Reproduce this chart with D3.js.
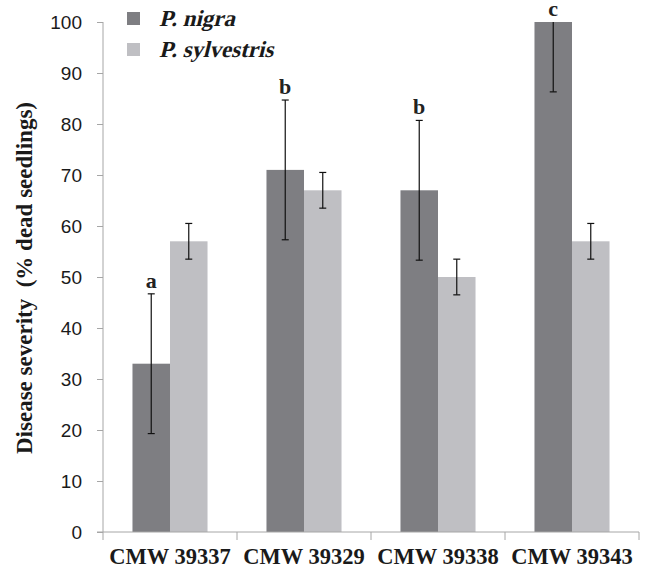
<!DOCTYPE html>
<html>
<head>
<meta charset="utf-8">
<script src="https://cdn.jsdelivr.net/npm/d3@7"></script>
<style>
  body { margin: 0; background: #fff; }
</style>
</head>
<body>
<div id="chart"></div>
<script>
// data
const isolates = ["CMW 39337", "CMW 39329", "CMW 39338", "CMW 39343"]
const species = ["P. nigra", "P. sylvestris"]
const nigraValues = [33, 71, 67, 100]
const nigraErrors = [13.7, 13.7, 13.7, 13.7]
const sylvestrisValues = [57, 67, 50, 57]
const sylvestrisErrors = [3.5, 3.5, 3.5, 3.5]
const letters = ["a", "b", "b", "c"]
const yTicks = [0, 10, 20, 30, 40, 50, 60, 70, 80, 90, 100]

const colors = { "P. nigra": "#7e7e82", "P. sylvestris": "#bfbfc3" }

// build rows for drawing
const rows = []
isolates.forEach((iso, i) => {
  rows.push({ iso, sp: species[0], v: nigraValues[i], e: nigraErrors[i], letter: letters[i] })
  rows.push({ iso, sp: species[1], v: sylvestrisValues[i], e: sylvestrisErrors[i] })
})

// dimensions
const dimensions = {
  width: 652,
  height: 568,
  margin: { top: 22, right: 13, bottom: 36, left: 103 },
}
dimensions.boundedWidth = dimensions.width - dimensions.margin.left - dimensions.margin.right
dimensions.boundedHeight = dimensions.height - dimensions.margin.top - dimensions.margin.bottom

const wrapper = d3.select("#chart")
  .append("svg")
    .attr("width", dimensions.width)
    .attr("height", dimensions.height)

const bounds = wrapper.append("g")
  .attr("transform", `translate(${dimensions.margin.left},${dimensions.margin.top})`)

// scales
const xScale = d3.scaleBand()
  .domain(isolates)
  .range([0, 536])
  .paddingInner(0.44)
  .paddingOuter(0.22)

const subScale = d3.scaleBand()
  .domain(species)
  .range([0, xScale.bandwidth()])

const yScale = d3.scaleLinear()
  .domain([0, 100])
  .range([dimensions.boundedHeight, 0])

// bars
const groups = bounds.selectAll("g.bar")
  .data(rows)
  .enter()
  .append("g")
  .attr("class", "bar")
  .attr("transform", d => `translate(${xScale(d.iso) + subScale(d.sp)},0)`)

groups.append("rect")
  .attr("x", 0)
  .attr("y", d => yScale(d.v))
  .attr("width", subScale.bandwidth())
  .attr("height", d => yScale(0) - yScale(d.v))
  .attr("fill", d => colors[d.sp])

// error bars (upper end clipped at 100)
const cx = subScale.bandwidth() / 2
groups.append("line")
  .attr("x1", cx).attr("x2", cx)
  .attr("y1", d => yScale(d.v - d.e))
  .attr("y2", d => yScale(Math.min(100, d.v + d.e)))
  .attr("stroke", "#111")
  .attr("stroke-width", 1.2)

groups.append("line")
  .attr("x1", cx - 3.5).attr("x2", cx + 3.5)
  .attr("y1", d => yScale(d.v - d.e))
  .attr("y2", d => yScale(d.v - d.e))
  .attr("stroke", "#111")
  .attr("stroke-width", 1.2)

groups.filter(d => d.v + d.e <= 100)
  .append("line")
  .attr("x1", cx - 3.5).attr("x2", cx + 3.5)
  .attr("y1", d => yScale(d.v + d.e))
  .attr("y2", d => yScale(d.v + d.e))
  .attr("stroke", "#111")
  .attr("stroke-width", 1.2)

// significance letters
groups.filter(d => d.letter)
  .append("text")
  .attr("x", cx)
  .attr("y", d => yScale(Math.min(100, d.v + d.e)) - 6)
  .attr("text-anchor", "middle")
  .style("font-family", "'Liberation Serif', 'Times New Roman', serif")
  .style("font-weight", "bold")
  .style("font-size", "22px")
  .attr("fill", "#222")
  .text(d => d.letter)

// axes
const axisColor = "#a6a6a6"

const yAxis = bounds.append("g")
  .call(d3.axisLeft(yScale).tickValues(yTicks).tickSize(6).tickPadding(15))
yAxis.select(".domain").attr("stroke", axisColor).attr("d", `M0,0V${dimensions.boundedHeight}`)
yAxis.selectAll(".tick line").attr("stroke", axisColor)
yAxis.selectAll(".tick text")
  .style("font-family", "'Liberation Sans', Arial, sans-serif")
  .style("font-size", "19px")
  .attr("fill", "#1a1a1a")

const xAxis = bounds.append("g")
  .attr("transform", `translate(0,${dimensions.boundedHeight})`)
  .call(d3.axisBottom(xScale).tickSize(0))
xAxis.select(".domain").attr("stroke", axisColor).attr("d", "M-6,0H536")
xAxis.selectAll(".tick text")
  .attr("y", 32)
  .attr("dy", 0)
  .style("font-family", "'Liberation Serif', 'Times New Roman', serif")
  .style("font-weight", "bold")
  .style("font-size", "22.5px")
  .attr("fill", "#1a1a1a")

// category separators
const sepPositions = d3.range(isolates.length + 1).map(i => i * xScale.step())
xAxis.selectAll("line.sep")
  .data(sepPositions)
  .enter()
  .append("line")
  .attr("class", "sep")
  .attr("x1", d => d).attr("x2", d => d)
  .attr("y1", 0).attr("y2", 8)
  .attr("stroke", axisColor)

// y title
wrapper.append("text")
  .attr("transform", "translate(32,278) rotate(-90)")
  .attr("text-anchor", "middle")
  .style("font-family", "'Liberation Serif', 'Times New Roman', serif")
  .style("font-weight", "bold")
  .style("font-size", "23px")
  .style("white-space", "pre")
  .attr("fill", "#1a1a1a")
  .text("Disease severity  (% dead seedlings)")

// legend
const legend = wrapper.append("g")
  .attr("transform", "translate(127,12)")

const legendItems = legend.selectAll("g")
  .data(species)
  .enter()
  .append("g")
  .attr("transform", (d, i) => `translate(0,${i * 31})`)

legendItems.append("rect")
  .attr("width", 13).attr("height", 13)
  .attr("fill", d => colors[d])

// bold serif slanted by hand (italic face falls back to sans here)
legendItems.append("text")
  .attr("transform", "translate(32,14) skewX(-14)")
  .style("font-family", "'Liberation Serif', 'Times New Roman', serif")
  .style("font-weight", "bold")
  .style("font-size", "23px")
  .attr("fill", "#1a1a1a")
  .text(d => d)
</script>
</body>
</html>
